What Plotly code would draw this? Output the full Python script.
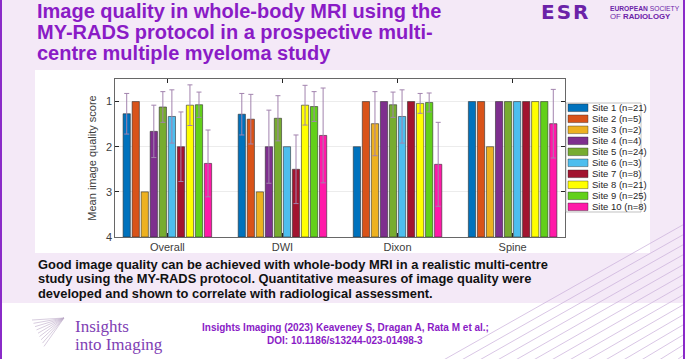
import plotly.graph_objects as go

# ---------------- data ----------------
categories = ["Overall", "DWI", "Dixon", "Spine"]
site_labels = ["Site 1 (n=21)", "Site 2 (n=5)", "Site 3 (n=2)", "Site 4 (n=4)",
               "Site 5 (n=24)", "Site 6 (n=3)", "Site 7 (n=8)", "Site 8 (n=21)",
               "Site 9 (n=25)", "Site 10 (n=8)"]
# mean image quality score per site, per category (Overall, DWI, Dixon, Spine)
site1 = [1.27, 1.28, 2.00, 1.00]
site2 = [1.00, 1.39, 1.00, 1.00]
site3 = [3.00, 3.00, 1.49, 2.00]
site4 = [1.66, 2.00, 1.00, 1.00]
site5 = [1.12, 1.37, 1.07, 1.00]
site6 = [1.33, 2.00, 1.33, 1.00]
site7 = [2.00, 2.50, 1.00, 1.00]
site8 = [1.08, 1.08, 1.04, 1.00]
site9 = [1.07, 1.11, 1.02, 1.00]
site10 = [2.37, 1.75, 2.39, 1.49]
# standard deviations (None = no error bar shown)
err1 = [0.45, 0.46, None, None]
err2 = [None, 0.55, None, None]
err3 = [None, None, 0.71, None]
err4 = [0.58, 0.81, None, None]
err5 = [0.34, 0.50, 0.28, None]
err6 = [0.59, None, 0.59, None]
err7 = [0.77, 0.76, None, None]
err8 = [0.45, 0.44, 0.22, None]
err9 = [0.28, 0.33, 0.21, None]
err10 = [0.74, 1.05, 0.93, 0.76]

values = [site1, site2, site3, site4, site5, site6, site7, site8, site9, site10]
errors = [err1, err2, err3, err4, err5, err6, err7, err8, err9, err10]
colors = ["#0072BD", "#D95319", "#EDB120", "#7E2F8E", "#77AC30",
          "#4DBEEE", "#A2142F", "#FFFF00", "#62D01A", "#FF1AA8"]
score_ticks = [1, 2, 3, 4]
WORST = 4  # bars rise from the worst score

# ---------------- layout helpers ----------------
W, H = 685, 359
L, R, T, B = 115, 565, 79, 237


def fx(x):
    return (x - L) / (R - L)


def fy(y):
    return (B - y) / (B - T)


PURPLE = "#8A1BC6"
FONT = "Liberation Sans, Arial, sans-serif"

fig = go.Figure()
for lab, vals, errs, col in zip(site_labels, values, errors, colors):
    fig.add_trace(go.Bar(
        x=categories,
        y=[v - WORST for v in vals],
        base=WORST,
        name=lab,
        marker=dict(color=col, line=dict(color="rgba(45,45,45,0.85)", width=0.7)),
        error_y=dict(type="data",
                     array=[e if e is not None else "NaN" for e in errs],
                     color="#A283AE", thickness=1, width=2.5),
        showlegend=False,
    ))

shapes = []
annotations = []

# page decoration
shapes.append(dict(type="rect", xref="paper", yref="paper", layer="below",
                   x0=fx(35), x1=fx(650), y0=fy(253), y1=fy(70),
                   fillcolor="white", line=dict(width=0)))
shapes.append(dict(type="rect", xref="paper", yref="paper", layer="below",
                   x0=fx(2), x1=fx(683), y0=fy(359), y1=fy(303),
                   fillcolor="white", line=dict(width=0)))
# fan lines bottom-right
for i in range(14):
    x0 = 440 + i * 18
    shapes.append(dict(type="line", xref="paper", yref="paper", layer="below",
                       x0=fx(x0), y0=fy(362), x1=fx(688), y1=fy(222 + i * 10),
                       line=dict(color="#C9AEDA", width=0.7)))
# left / right border
shapes.append(dict(type="line", xref="paper", yref="paper",
                   x0=fx(1), x1=fx(1), y0=fy(0), y1=fy(359),
                   line=dict(color="#8A2BC8", width=2)))
shapes.append(dict(type="line", xref="paper", yref="paper",
                   x0=fx(684), x1=fx(684), y0=fy(0), y1=fy(359),
                   line=dict(color="#8A2BC8", width=2)))
# small logo fan
for i in range(9):
    shapes.append(dict(type="line", xref="paper", yref="paper",
                       x0=fx(64), y0=fy(318), x1=fx(32 + i * 1.5), y1=fy(320 + i * 3.3),
                       line=dict(color="#BCA9C8", width=0.6)))

# legend (custom, compact)
shapes.append(dict(type="rect", xref="paper", yref="paper",
                   x0=fx(566), x1=fx(641), y0=fy(212), y1=fy(103),
                   fillcolor="white", line=dict(color="#A8A8A8", width=0.7)))
for i, (lab, col) in enumerate(zip(site_labels, colors)):
    yc = 107.8 + 11 * i
    shapes.append(dict(type="rect", xref="paper", yref="paper",
                       x0=fx(568), x1=fx(588), y0=fy(yc + 3.8), y1=fy(yc - 3.8),
                       fillcolor=col, line=dict(color="rgba(45,45,45,0.7)", width=0.6)))
    annotations.append(dict(text=lab, xref="paper", yref="paper", x=fx(589.5), y=fy(yc),
                            xanchor="left", yanchor="middle", showarrow=False,
                            font=dict(family=FONT, size=9.5, color="#262626")))

# title
title_lines = ["Image quality in whole-body MRI using the",
               "MY-RADS protocol in a prospective multi-",
               "centre multiple myeloma study"]
for i, t in enumerate(title_lines):
    annotations.append(dict(text="<b>" + t + "</b>", xref="paper", yref="paper",
                            x=fx(35), y=fy(11 + 21 * i), xanchor="left", yanchor="middle",
                            showarrow=False,
                            font=dict(family=FONT, size=20, color=PURPLE)))

# ESR logo
annotations.append(dict(text="<b>E\u200aS\u200aR</b>", xref="paper", yref="paper",
                        x=fx(539), y=fy(12), xanchor="left", yanchor="middle", showarrow=False,
                        font=dict(family="DejaVu Sans, sans-serif", size=20, color="#6B22A8")))
annotations.append(dict(text="<b>EUROPEAN</b> SOCIETY", xref="paper", yref="paper",
                        x=fx(608), y=fy(8), xanchor="left", yanchor="middle", showarrow=False,
                        font=dict(family=FONT, size=6.7, color="#6B22A8")))
annotations.append(dict(text="OF <b>RADIOLOGY</b>", xref="paper", yref="paper",
                        x=fx(608), y=fy(16), xanchor="left", yanchor="middle", showarrow=False,
                        font=dict(family=FONT, size=7.8, color="#6B22A8")))

# summary text
para = ["Good image quality can be achieved with whole-body MRI in a realistic multi-centre",
        "study using the MY-RADS protocol. Quantitative measures of image quality were",
        "developed and shown to correlate with radiological assessment."]
for i, t in enumerate(para):
    annotations.append(dict(text="<b>" + t + "</b>", xref="paper", yref="paper",
                            x=fx(36), y=fy(264 + 14.5 * i), xanchor="left", yanchor="middle",
                            showarrow=False,
                            font=dict(family=FONT, size=12.9, color="#111111")))

# journal logo text
annotations.append(dict(text="Insights", xref="paper", yref="paper",
                        x=fx(73), y=fy(326), xanchor="left", yanchor="middle", showarrow=False,
                        font=dict(family="Liberation Serif, serif", size=17, color="#8040B4")))
annotations.append(dict(text="into Imaging", xref="paper", yref="paper",
                        x=fx(73), y=fy(344), xanchor="left", yanchor="middle", showarrow=False,
                        font=dict(family="Liberation Serif, serif", size=17, color="#8040B4")))
# citation
annotations.append(dict(text="<b>Insights Imaging (2023) Keaveney S, Dragan A, Rata M et al.;</b>",
                        xref="paper", yref="paper", x=fx(345), y=fy(327),
                        xanchor="center", yanchor="middle", showarrow=False,
                        font=dict(family=FONT, size=10, color=PURPLE)))
annotations.append(dict(text="<b>DOI: 10.1186/s13244-023-01498-3</b>",
                        xref="paper", yref="paper", x=fx(345), y=fy(340),
                        xanchor="center", yanchor="middle", showarrow=False,
                        font=dict(family=FONT, size=10, color=PURPLE)))

fig.update_layout(
    width=W, height=H,
    margin=dict(l=L, r=W - R, t=T, b=H - B, pad=0),
    paper_bgcolor="#F4E9F7",
    plot_bgcolor="white",
    barmode="group",
    bargap=0.215,
    bargroupgap=0.2,
    hovermode=False,
    shapes=shapes,
    annotations=annotations,
    font=dict(family=FONT, color="#404040"),
    xaxis=dict(range=[-0.455, 3.455], showgrid=False, showline=True,
               linecolor="#262626", linewidth=0.7, mirror="ticks",
               ticks="inside", ticklen=4, tickcolor="#262626",
               tickfont=dict(size=11, color="#404040")),
    yaxis=dict(range=[WORST, 0.5], tickvals=score_ticks, showgrid=True,
               gridcolor="#E4E4E4", gridwidth=0.7, zeroline=False,
               showline=True, linecolor="#262626", linewidth=0.7, mirror="ticks",
               ticks="inside", ticklen=4, tickcolor="#262626",
               tickfont=dict(size=11, color="#404040"),
               title=dict(text="Mean image quality score", standoff=6,
                          font=dict(size=11, color="#404040"))),
)

fig.write_html("out.html",
               config={"displayModeBar": False, "staticPlot": True},
               post_script="document.body.style.margin='0';"
                           "document.body.style.overflow='hidden';")
